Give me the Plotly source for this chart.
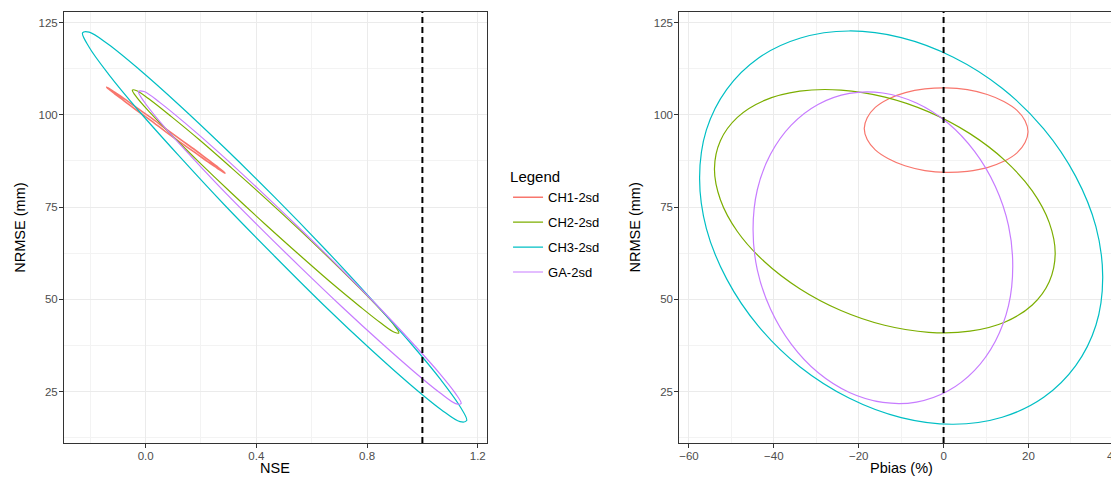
import plotly.graph_objects as go
from plotly.subplots import make_subplots

# ---------------- data ----------------
series = ["CH1-2sd", "CH2-2sd", "CH3-2sd", "GA-2sd"]
colors = ["#F8766D", "#7CAE00", "#00BFC4", "#C77CFF"]

# Left panel: NSE vs NRMSE (mm) 2-sd ellipse outlines
nse_ch1 = [0.287,0.28,0.258,0.224,0.18,0.128,0.073,0.018,-0.034,-0.078,-0.112,-0.134,-0.141,-0.134,-0.112,-0.078,-0.034,0.018,0.073,0.128,0.18,0.224,0.258,0.28]
nrmse_a_ch1 = [84.2,84.7,86.0,87.9,90.4,93.2,96.2,99.3,102.0,104.4,106.1,107.2,107.5,107.0,105.7,103.8,101.3,98.5,95.4,92.4,89.7,87.3,85.6,84.5]
nse_ch2 = [0.915,0.899,0.85,0.774,0.674,0.558,0.434,0.309,0.193,0.093,0.017,-0.032,-0.048,-0.032,0.017,0.093,0.193,0.309,0.433,0.558,0.674,0.774,0.85,0.899]
nrmse_a_ch2 = [40.9,42.9,47.1,53.0,60.4,68.7,77.3,85.7,93.3,99.5,104.0,106.5,106.7,104.7,100.5,94.6,87.2,78.9,70.3,61.9,54.3,48.1,43.6,41.1]
nse_ch3 = [1.16,1.136,1.067,0.957,0.813,0.646,0.466,0.286,0.119,-0.025,-0.135,-0.204,-0.228,-0.204,-0.135,-0.025,0.119,0.286,0.466,0.646,0.813,0.957,1.067,1.136]
nrmse_a_ch3 = [17.2,21.0,28.2,38.2,50.3,63.8,77.7,91.0,102.8,112.4,119.1,122.4,122.2,118.3,111.1,101.1,89.0,75.5,61.7,48.3,36.5,26.9,20.2,16.9]
nse_ga = [1.14,1.12,1.062,0.969,0.849,0.708,0.557,0.406,0.266,0.145,0.052,-0.006,-0.026,-0.006,0.052,0.145,0.265,0.406,0.557,0.708,0.849,0.969,1.062,1.12]
nrmse_a_ga = [21.8,24.5,30.0,37.8,47.4,58.1,69.2,80.0,89.7,97.6,103.3,106.3,106.3,103.6,98.1,90.3,80.7,70.0,58.9,48.1,38.4,30.5,24.8,21.8]

# Right panel: Pbias (%) vs NRMSE (mm) 2-sd ellipse outlines
pbias_ch1 = [19.9,19.2,17.3,14.2,10.3,5.6,0.6,-4.4,-9.0,-13.0,-16.1,-18.0,-18.7,-18.0,-16.1,-13.0,-9.1,-4.4,0.6,5.6,10.3,14.2,17.3,19.2]
nrmse_b_ch1 = [95.4,98.4,101.2,103.6,105.5,106.8,107.3,107.0,106.0,104.3,102.0,99.2,96.3,93.3,90.5,88.1,86.2,84.9,84.4,84.7,85.7,87.4,89.7,92.5]
pbias_ch2 = [26.3,24.9,20.9,14.5,6.2,-3.5,-13.8,-24.2,-33.9,-42.2,-48.6,-52.6,-54.0,-52.6,-48.6,-42.2,-33.9,-24.2,-13.9,-3.5,6.2,14.5,20.9,24.9]
nrmse_b_ch2 = [62.4,70.8,79.4,87.6,94.9,100.8,104.8,106.7,106.4,103.9,99.3,93.0,85.4,77.0,68.4,60.2,52.9,47.0,43.0,41.1,41.4,43.9,48.5,54.8]
pbias_ch3 = [37.5,35.9,31.1,23.6,13.8,2.3,-10.0,-22.3,-33.7,-43.6,-51.1,-55.9,-57.5,-55.9,-51.1,-43.6,-33.8,-22.3,-10.0,2.3,13.8,23.6,31.1,35.9]
nrmse_b_ch3 = [55.9,69.7,83.4,96.2,107.2,115.6,120.9,122.7,120.8,115.4,106.9,95.9,83.0,69.2,55.5,42.7,31.7,23.3,18.0,16.2,18.1,23.5,32.0,43.0]
pbias_ga = [16.3,15.3,12.2,7.3,1.0,-6.4,-14.3,-22.2,-29.6,-35.9,-40.8,-43.9,-44.9,-43.9,-40.8,-35.9,-29.6,-22.2,-14.3,-6.4,1.0,7.3,12.2,15.3]
nrmse_b_ga = [59.0,70.0,80.6,90.1,97.8,103.2,105.9,105.8,102.8,97.2,89.3,79.7,69.0,58.0,47.4,37.9,30.2,24.8,22.1,22.2,25.2,30.8,38.7,48.3]

left_x = [nse_ch1, nse_ch2, nse_ch3, nse_ga]
left_y = [nrmse_a_ch1, nrmse_a_ch2, nrmse_a_ch3, nrmse_a_ga]
right_x = [pbias_ch1, pbias_ch2, pbias_ch3, pbias_ga]
right_y = [nrmse_b_ch1, nrmse_b_ch2, nrmse_b_ch3, nrmse_b_ga]

nse_ref = 1.0      # dashed reference line, left panel
pbias_ref = 0.0    # dashed reference line, right panel

y_ticks = [25, 50, 75, 100, 125]
nse_ticks = [0.0, 0.4, 0.8, 1.2]
nse_tick_text = ["0.0", "0.4", "0.8", "1.2"]
pbias_ticks = [-60, -40, -20, 0, 20, 40]

# ---------------- figure ----------------
FONT = "Liberation Sans, Arial, sans-serif"
GRID = "#EBEBEB"
MINOR = "#F3F3F3"
BORDER = "#333333"
TICKC = "#4D4D4D"

fig = make_subplots(rows=1, cols=2)
widths = [1.6, 1.2, 1.2, 1.2]
for i, name in enumerate(series):
    fig.add_trace(go.Scatter(
        x=left_x[i] + left_x[i][:1], y=left_y[i] + left_y[i][:1], mode="lines", name=name,
        legendgroup=name, showlegend=True,
        line=dict(color=colors[i], width=widths[i], shape="spline", smoothing=1.0)), 1, 1)
    fig.add_trace(go.Scatter(
        x=right_x[i] + right_x[i][:1], y=right_y[i] + right_y[i][:1], mode="lines", name=name,
        legendgroup=name, showlegend=False,
        line=dict(color=colors[i], width=1.2, shape="spline", smoothing=1.0)), 1, 2)

for ref, xr in [(nse_ref, "x"), (pbias_ref, "x2")]:
    fig.add_shape(type="line", xref=xr, yref="y domain", x0=ref, x1=ref, y0=0, y1=1,
                  line=dict(color="black", width=2, dash="6px,4px"), layer="above")

axis_common = dict(showgrid=True, gridcolor=GRID, gridwidth=1, zeroline=False,
                   ticks="outside", ticklen=4, tickcolor=BORDER, tickwidth=1,
                   tickfont=dict(family=FONT, size=11.5, color=TICKC),
                   showline=True, linecolor=BORDER, linewidth=1)

fig.update_xaxes(domain=[0, 0.4007], range=[-0.295, 1.2325], tickvals=nse_ticks, ticktext=nse_tick_text,
                 mirror=True, ticklabelstandoff=-2,
                 minor=dict(tickvals=[-0.2, 0.2, 0.6, 1.0], showgrid=True, gridcolor=MINOR,
                            gridwidth=0.7, ticks=""),
                 row=1, col=1, **axis_common)
fig.update_xaxes(domain=[0.5832, 1.0], range=[-62.29, 41.34], tickvals=pbias_ticks,
                 mirror=True, ticklabelstandoff=-2, ticklabeloverflow="allow",
                 minor=dict(tickvals=[-50, -30, -10, 10, 30], showgrid=True, gridcolor=MINOR,
                            gridwidth=0.7, ticks=""),
                 row=1, col=2, **axis_common)
fig.update_yaxes(range=[11.12, 127.84], tickvals=y_ticks, mirror=True, ticklabelstandoff=-1,
                 minor=dict(tickvals=[12.5, 37.5, 62.5, 87.5, 112.5], showgrid=True, gridcolor=MINOR,
                            gridwidth=0.7, ticks=""),
                 row=1, col=1, **axis_common)
fig.update_yaxes(range=[11.12, 127.84], tickvals=y_ticks, mirror=False, ticklabelstandoff=-1,
                 minor=dict(tickvals=[12.5, 37.5, 62.5, 87.5, 112.5], showgrid=True, gridcolor=MINOR,
                            gridwidth=0.7, ticks=""),
                 row=1, col=2, **axis_common)

title_font = dict(family=FONT, size=14.5, color="black")
annots = [
    dict(text="NRMSE (mm)", x=-0.0425, y=0.5, textangle=-90, yanchor="middle"),
    dict(text="NRMSE (mm)", x=0.5412, y=0.5, textangle=-90, yanchor="middle"),
    dict(text="NSE", x=0.2003, y=-0.079, yanchor="bottom"),
    dict(text="Pbias (%)", x=0.794, y=-0.079, yanchor="bottom"),
]
for a in annots:
    fig.add_annotation(xref="paper", yref="paper", showarrow=False, xanchor="center",
                       font=title_font, borderpad=0, **a)

# the page body adds an 8 px offset, so the figure is 8 px smaller and margins are shifted
fig.update_layout(
    width=1111, height=469,
    margin=dict(l=56, r=0, t=4, b=34, autoexpand=False),
    paper_bgcolor="white", plot_bgcolor="white",
    font=dict(family=FONT, color="black"),
    legend=dict(title=dict(text="Legend", font=dict(family=FONT, size=15, color="black")),
                font=dict(family=FONT, size=13, color="black"),
                x=0.4209, y=0.65, xanchor="left", yanchor="top",
                tracegroupgap=5, bgcolor="rgba(0,0,0,0)", itemwidth=30),
)

fig.write_html("out.html")
